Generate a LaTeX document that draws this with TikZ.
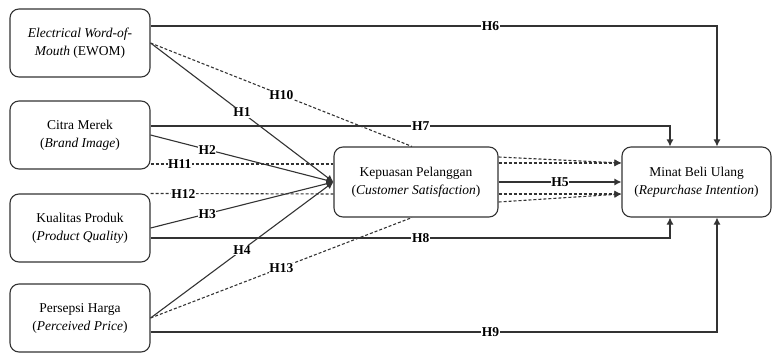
\documentclass[tikz,border=0pt]{standalone}
\usepackage{fontspec}
\setmainfont{Liberation Serif}
\usetikzlibrary{arrows.meta}
\begin{document}
\begin{tikzpicture}[x=1pt,y=-1pt,
 box/.style={draw=black!80, line width=1.1pt, rounded corners=9pt, align=center, font=\fontsize{13.5}{18}\selectfont, inner sep=0pt},
 lbox/.style={box, minimum width=140pt, minimum height=68pt},
 hyp/.style={draw=black!80, line width=1.1pt, -{Latex[length=7pt,width=7pt]}},
 hypn/.style={draw=black!80, line width=1.1pt},
 medn/.style={hypn, dash pattern=on 3pt off 2pt},
 meda/.style={hyp, dash pattern=on 3pt off 2pt},
 hl/.style={font=\fontsize{13.5}{15}\selectfont\bfseries, fill=white, inner sep=0.6pt}
]
\useasboundingbox (0,0) rectangle (777,353);
\node[lbox] (ewom) at (80,43) {\textit{Electrical Word-of-}\\\textit{Mouth} (EWOM)};
\node[lbox] (citra) at (80,135) {Citra Merek\\(\textit{Brand Image})};
\node[lbox] (kual) at (80,228) {Kualitas Produk\\(\textit{Product Quality})};
\node[lbox] (pers) at (80,318) {Persepsi Harga\\(\textit{Perceived Price})};
\node[box, minimum width=164pt, minimum height=70pt] (kep) at (416,182) {Kepuasan Pelanggan\\(\textit{Customer Satisfaction})};
\node[box, minimum width=149pt, minimum height=70pt] (minat) at (696.5,182) {Minat Beli Ulang\\(\textit{Repurchase Intention})};

% direct paths to Minat
\draw[hyp] ([yshift=17pt]ewom.east) -| node[hl, pos=0.30]{H6} ([xshift=20.5pt]minat.north);
\draw[hyp] ([yshift=9pt]citra.east) -| node[hl, pos=0.26]{H7} ([xshift=-26.5pt]minat.north);
\draw[hyp] ([yshift=-10pt]kual.east) -| node[hl, pos=0.26]{H8} ([xshift=-26.5pt]minat.south);
\draw[hyp] ([yshift=-14pt]pers.east) -| node[hl, pos=0.30]{H9} ([xshift=20.5pt]minat.south);

% mediation dashed paths
\draw[medn] (ewom.east) -- node[hl, pos=0.5]{H10} ([xshift=-4pt]kep.north);
\draw[medn] ([yshift=-29pt]citra.east) -- node[hl, pos=0.16]{H11} ([yshift=18pt]kep.west);
\draw[medn] (kual.north east) -- node[hl, pos=0.18]{H12} ([yshift=-12pt]kep.west);
\draw[medn] (pers.east) -- node[hl, pos=0.5]{H13} ([xshift=-4pt]kep.south);

% paths to Kepuasan
\draw[hyp] (ewom.east) -- node[hl, pos=0.5]{H1} (kep.west);
\draw[hyp] (citra.east) -- node[hl, pos=0.31]{H2} (kep.west);
\draw[hyp] (kual.east) -- node[hl, pos=0.31]{H3} (kep.west);
\draw[hyp] (pers.east) -- node[hl, pos=0.5]{H4} (kep.west);

% Kepuasan to Minat
\draw[meda] ([yshift=25pt]kep.east) -- ([yshift=19pt]minat.west);
\draw[meda] ([yshift=19pt]kep.east) -- ([yshift=19pt]minat.west);
\draw[meda] ([yshift=-12pt]kep.east) -- ([yshift=-12pt]minat.west);
\draw[meda] ([yshift=-20pt]kep.east) -- ([yshift=-12pt]minat.west);
\draw[hyp] (kep.east) -- node[hl, pos=0.5]{H5} (minat.west);
\end{tikzpicture}
\end{document}
